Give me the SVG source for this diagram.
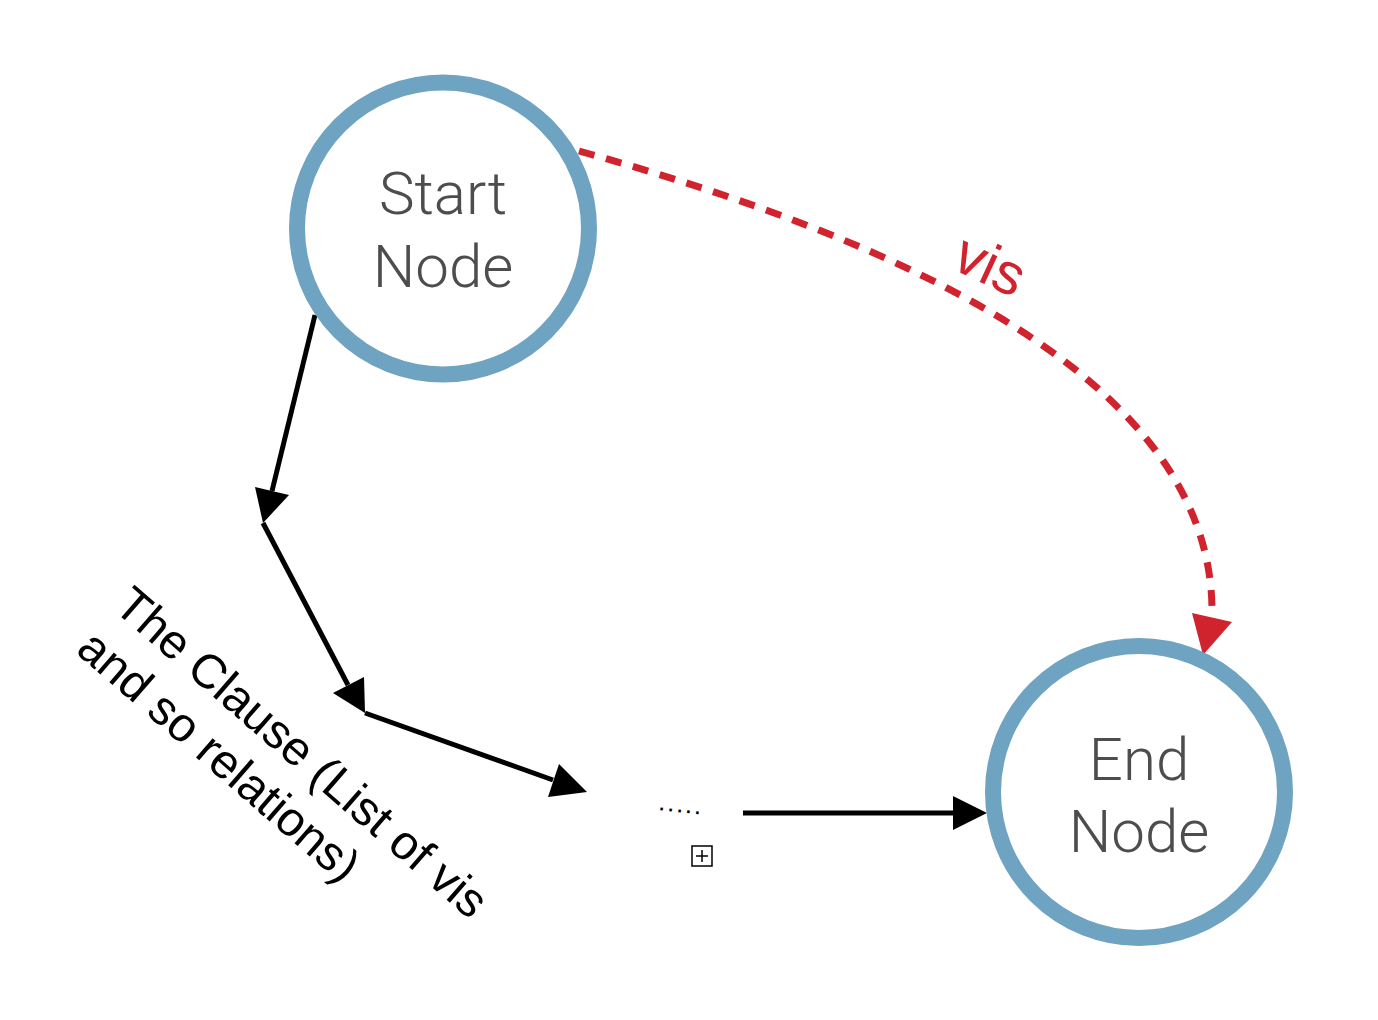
<svg xmlns="http://www.w3.org/2000/svg" width="1378" height="1020" viewBox="0 0 1378 1020">
<style>
.node{fill:#ffffff;stroke:#6ea3c1;stroke-width:16}
.ntext{font-family:Roboto,"Liberation Sans",sans-serif;font-weight:300;font-size:60px;fill:#4d4d4d;text-anchor:middle}
.edge{fill:none;stroke:#000;stroke-width:5}
.head{fill:#000;stroke:none}
.red{fill:none;stroke:#d0232e;stroke-width:7;stroke-dasharray:16 12}
.redhead{fill:#d0232e}
.lbl{font-family:"Liberation Sans",Arial,sans-serif;font-size:48px;fill:#000}
.vis{font-family:"Liberation Sans",Arial,sans-serif;font-size:58px;fill:#d0232e}
</style>
<rect width="1378" height="1020" fill="#ffffff"/>
<g id="connectors">
  <path class="edge" d="M315,315 L272,491"/>
  <polygon class="head" points="255,487 289,495 263,523"/>
  <path class="edge" d="M263,523 L348,685"/>
  <polygon class="head" points="333,693 364,677 365,713"/>
  <path class="edge" d="M365,713 L553,780"/>
  <polygon class="head" points="559,764 548,797 587,792"/>
  <path class="edge" d="M743,813 L953,813"/>
  <polygon class="head" points="953,796 953,830 987,813"/>
  <path class="red" d="M579,151 C900,240 1215,380 1212,615"/>
  <polygon class="redhead" points="1192,613 1232,622 1203,655"/>
  <text class="vis" transform="translate(950,268) rotate(25)">vis</text>
  <text class="lbl" transform="translate(112,609) rotate(41)"><tspan x="0" y="0">The Clause (List of vis</tspan><tspan x="0" y="57">and so relations)</tspan></text>
</g>
<g id="start-node">
  <circle class="node" cx="443" cy="228.5" r="146"/>
  <text class="ntext" x="443" y="214">Start</text>
  <text class="ntext" x="443" y="287">Node</text>
</g>
<g id="end-node">
  <circle class="node" cx="1139" cy="792" r="146"/>
  <text class="ntext" x="1139" y="780">End</text>
  <text class="ntext" x="1139" y="852">Node</text>
</g>
<g id="group-node">
  <text transform="translate(659,810) rotate(6)" font-family="Liberation Sans,sans-serif" font-size="18" font-weight="bold" letter-spacing="4" fill="#000">.....</text>
  <rect x="692" y="846" width="20" height="20" fill="#fff" stroke="#000" stroke-width="1.5"/>
  <path d="M696,856 H708 M702,850 V862" stroke="#000" stroke-width="1.5"/>
</g>
</svg>
